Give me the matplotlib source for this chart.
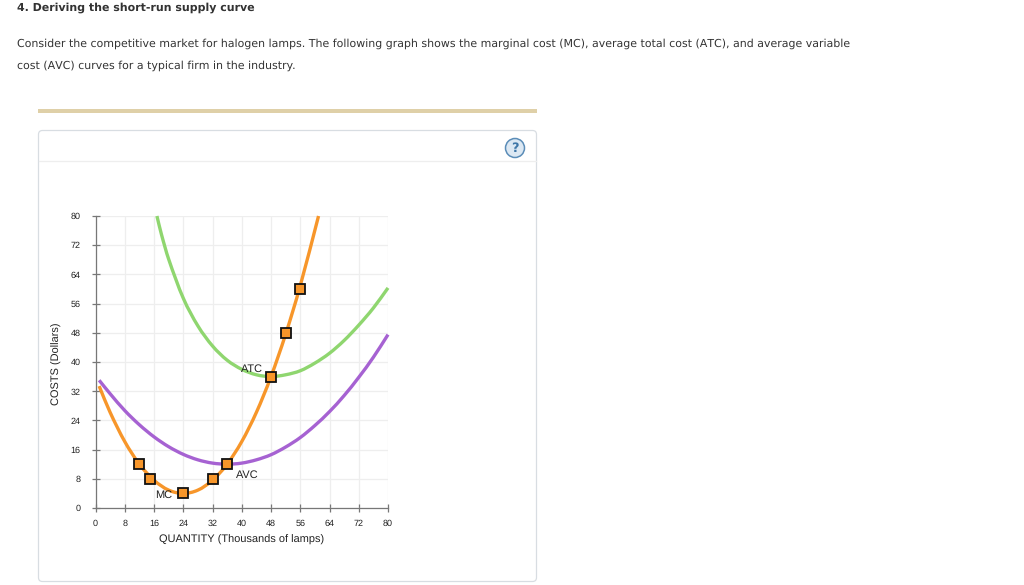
#
# short-run cost curves for a typical firm
#

from matplotlib import pyplot as plt
from matplotlib.patches import Circle, FancyBboxPatch, PathPatch, Rectangle
from matplotlib.path import Path
from matplotlib.lines import Line2D

# curve values
mc_x = [1, 4, 8, 12, 16, 20, 24, 28, 32, 36, 40, 44, 48, 52, 56, 61]
mc_y = [33.4, 26.2, 18.2, 12, 7.6, 4.9, 4, 4.9, 7.6, 12, 18.2, 26.2, 36, 47.6, 60.9, 80]

atc_x = [16.8, 18, 20, 24, 28, 32, 36, 40, 44, 48, 52, 56, 60, 64, 68, 72, 76, 80]
atc_y = [80, 75.1, 68.2, 57.5, 49.9, 44.4, 40.5, 38, 36.5, 36, 36.5, 37.6, 39.7, 42.4, 45.9, 50.1, 54.8, 60.3]

avc_x = [1, 4, 8, 12, 16, 20, 24, 28, 32, 36, 40, 44, 48, 52, 56, 60, 64, 68, 72, 76, 80]
avc_y = [35, 31.3, 26.7, 22.8, 19.5, 16.8, 14.7, 13.2, 12.3, 12, 12.3, 13.2, 14.6, 16.7, 19.3, 22.6, 26.4, 30.8, 35.8, 41.3, 47.5]

# squares on the MC curve
point_x = [12, 15, 24, 32, 36, 48, 52, 56]
point_y = [12, 8, 4, 8, 12, 36, 48, 60]

x_ticks = list(range(0, 81, 8))
y_ticks = list(range(0, 81, 8))

title = "4. Deriving the short-run supply curve"
body_1 = ("Consider the competitive market for halogen lamps. The following graph shows the "
          "marginal cost (MC), average total cost (ATC), and average variable")
body_2 = "cost (AVC) curves for a typical firm in the industry."

plt.rcParams["text.hinting"] = "none"
plt.rcParams["text.hinting_factor"] = 1

W, H = 1024, 585
fig = plt.figure(figsize=(W / 100, H / 100), dpi=100)


# pixel position (y down) to figure fraction
def fx(px):
    return px / W


def fy(py):
    return 1 - py / H


# smooth bezier path through the read points
def smooth_curve(ax, xs, ys, color, z):
    n = len(xs)
    slopes = []
    for i in range(n):
        a = max(i - 1, 0)
        b = min(i + 1, n - 1)
        slopes.append((ys[b] - ys[a]) / (xs[b] - xs[a]))
    verts = [(xs[0], ys[0])]
    codes = [Path.MOVETO]
    for i in range(n - 1):
        d = (xs[i + 1] - xs[i]) / 3
        verts.append((xs[i] + d, ys[i] + slopes[i] * d))
        verts.append((xs[i + 1] - d, ys[i + 1] - slopes[i + 1] * d))
        verts.append((xs[i + 1], ys[i + 1]))
        codes += [Path.CURVE4, Path.CURVE4, Path.CURVE4]
    patch = PathPatch(Path(verts, codes), facecolor="none", edgecolor=color, linewidth=2.4,
                      capstyle="butt", clip_on=False, zorder=z)
    ax.add_patch(patch)


# page text
fig.text(fx(17), fy(7.5), title, fontsize=7.8, fontweight="bold", color="#333333",
         family="DejaVu Sans", va="center")
fig.text(fx(17), fy(44), body_1, fontsize=7.78, color="#333333", family="DejaVu Sans", va="center")
fig.text(fx(17), fy(66), body_2, fontsize=7.78, color="#333333", family="DejaVu Sans", va="center")

# tan rule and panel
fig.add_artist(Rectangle((fx(38), fy(112.5)), 499 / W, 4 / H, transform=fig.transFigure,
                         facecolor="#dfd0a8", edgecolor="none"))
panel = FancyBboxPatch((38.5, H - 581.5), 498, 451, boxstyle="round,pad=0,rounding_size=4",
                       transform=None, facecolor="white", edgecolor="#d8dde2", linewidth=0.9)
fig.add_artist(panel)
fig.add_artist(Line2D([fx(39), fx(536)], [fy(161), fy(161)], color="#eeeeee", linewidth=0.9))

# help icon
fig.add_artist(Circle((515, H - 148), 9.5, transform=None, facecolor="#dce8f3",
                      edgecolor="#5b8db8", linewidth=1.1))
fig.text(fx(515), fy(148), "?", fontsize=9.5, fontweight="bold", color="#3f77a8",
         family="DejaVu Sans", ha="center", va="center")

# graph, kept above the panel
ax = fig.add_axes([fx(95.5), fy(508), 292.5 / W, 292 / H])
ax.set_zorder(5)
ax.patch.set_visible(False)
ax.set_xlim(0, 80)
ax.set_ylim(0, 80)
ax.set_xticks(x_ticks)
ax.set_yticks(y_ticks)
ax.grid(True, color="#eeeeee", linewidth=0.9)
ax.set_axisbelow(True)

for side in ["top", "right"]:
    ax.spines[side].set_visible(False)
for side in ["left", "bottom"]:
    ax.spines[side].set_color("#777777")
    ax.spines[side].set_linewidth(0.9)

ax.tick_params(direction="inout", length=5.6, width=0.9, color="#777777", labelcolor="#222222",
               labelsize=6.6, labelfontfamily="Liberation Sans")
ax.tick_params(axis="x", pad=5.7)
ax.tick_params(axis="y", pad=8)

smooth_curve(ax, atc_x, atc_y, "#8fd66f", 3)
smooth_curve(ax, avc_x, avc_y, "#a662d2", 3.5)
smooth_curve(ax, mc_x, mc_y, "#f7962a", 4)
ax.plot(point_x, point_y, linestyle="none", marker="s", markersize=7, markerfacecolor="#f7962a",
        markeredgecolor="#111111", markeredgewidth=1.3, clip_on=False, zorder=5)

ax.text(18.5, 3.6, "MC", fontsize=7.7, family="Liberation Sans", color="#222222", ha="center", va="center", zorder=6)
ax.text(42.7, 38.2, "ATC", fontsize=7.7, family="Liberation Sans", color="#222222", ha="center", va="center", zorder=6)
ax.text(41.5, 9.1, "AVC", fontsize=7.7, family="Liberation Sans", color="#222222", ha="center", va="center", zorder=6)

fig.text(fx(242), fy(540), "QUANTITY (Thousands of lamps)", fontsize=7.9, family="Liberation Sans",
         color="#222222", ha="center", va="center")
fig.text(fx(57), fy(364), "COSTS (Dollars)", fontsize=7.9, family="Liberation Sans", color="#222222",
         rotation=90, ha="center", va="center")

fig.savefig("out.png", dpi=100)
